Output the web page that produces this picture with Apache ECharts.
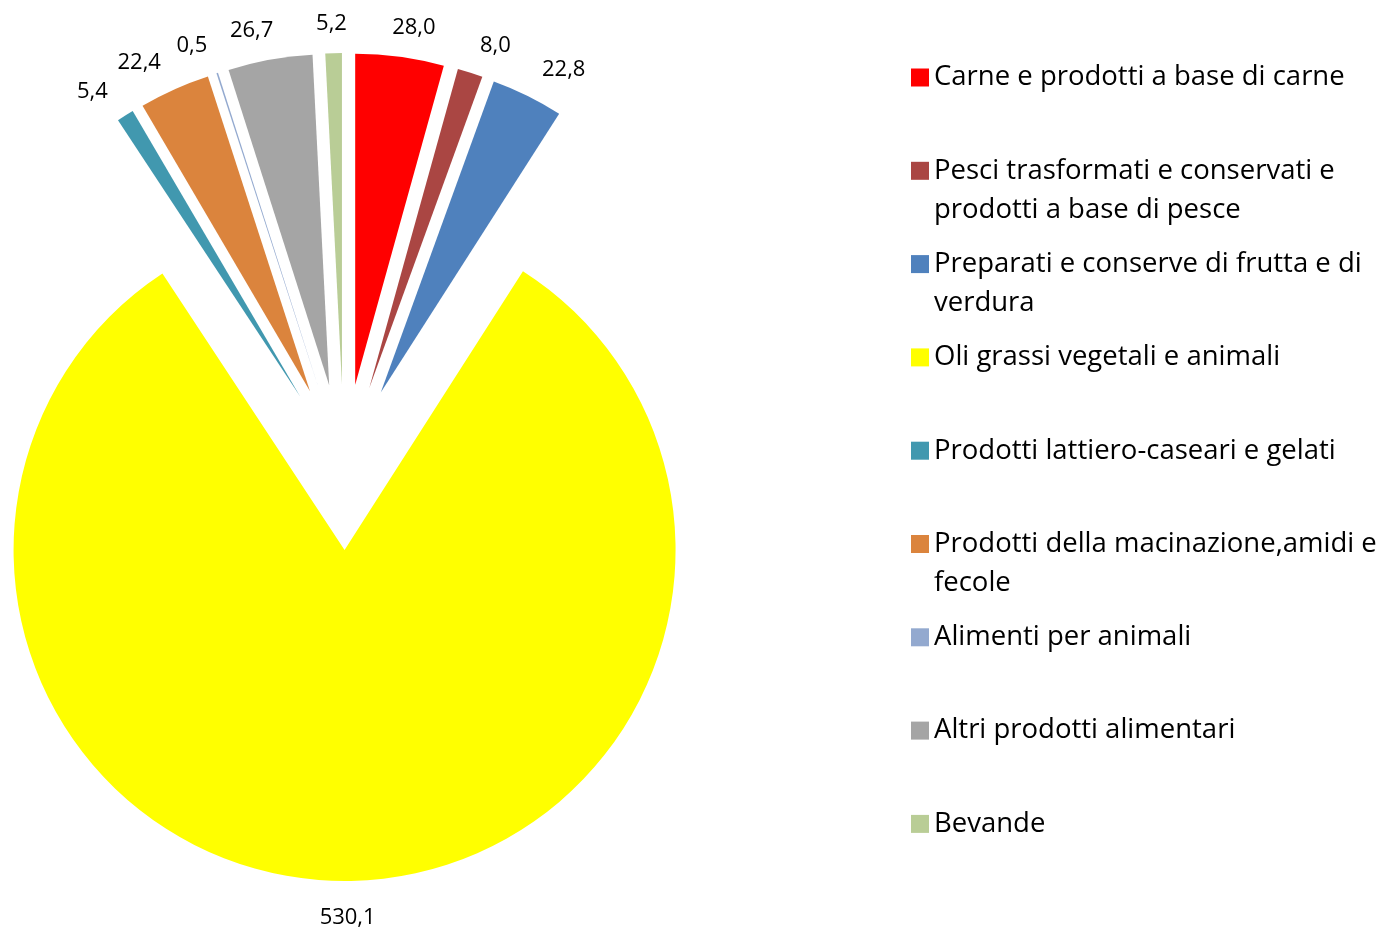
<!DOCTYPE html>
<html>
<head>
<meta charset="utf-8">
<script src="https://cdn.jsdelivr.net/npm/echarts@6/dist/echarts.min.js"></script>
<style>
  html, body { margin: 0; padding: 0; background: #fff; }
  #chart { width: 1389px; height: 930px; }
</style>
</head>
<body>
<div id="chart"></div>
<script>
// dati
const categories = [
  'Carne e prodotti a base di carne',
  'Pesci trasformati e conservati e prodotti a base di pesce',
  'Preparati e conserve di frutta e di verdura',
  'Oli grassi vegetali e animali',
  'Prodotti lattiero-caseari e gelati',
  'Prodotti della macinazione,amidi e fecole',
  'Alimenti per animali',
  'Altri prodotti alimentari',
  'Bevande'
]
const values = [28.0, 8.0, 22.8, 530.1, 5.4, 22.4, 0.5, 26.7, 5.2]
const colors = ['#FF0000', '#AA4643', '#4F81BD', '#FFFF00', '#4198AF', '#DB843D', '#93A9CF', '#A5A5A5', '#B9CD96']

// a capo nella legenda
const legendLines = {
  'Pesci trasformati e conservati e prodotti a base di pesce': ['Pesci trasformati e conservati e', 'prodotti a base di pesce'],
  'Preparati e conserve di frutta e di verdura': ['Preparati e conserve di frutta e di', 'verdura'],
  'Prodotti della macinazione,amidi e fecole': ['Prodotti della macinazione,amidi e', 'fecole']
}

const chart = echarts.init(document.getElementById('chart'))

const font = '"Open Sans", sans-serif'
const center = [344, 467]
const R = 331
const explode = 83
const labelR = R + explode + 30

const option = {
  animation: false,
  backgroundColor: '#fff',
  // una legenda per voce, passo fisso come in Excel
  legend: categories.map((name, i) => ({
    data: [name],
    orient: 'vertical',
    left: 911,
    top: 19 + i * 93.3,
    padding: 0,
    itemWidth: 18,
    itemHeight: 18,
    icon: 'rect',
    selectedMode: false,
    textStyle: { fontFamily: font, fontSize: 27.5, lineHeight: 39, color: '#000' },
    formatter: n => {
      const l = legendLines[n] || [n]
      return '\n' + l[0] + '\n' + (l[1] || '')
    }
  })),
  series: [{
    // torta esplosa
    type: 'pie',
    center: center,
    radius: R,
    startAngle: 90,
    clockwise: true,
    selectedMode: 'multiple',
    selectedOffset: explode,
    emphasis: { disabled: true },
    label: { show: false },
    labelLine: { show: false },
    data: values.map((v, i) => ({
      name: categories[i],
      value: v,
      selected: true,
      itemStyle: { color: colors[i] }
    }))
  }, {
    // anello invisibile che porta le etichette dei valori
    type: 'pie',
    center: center,
    radius: [labelR - 2, labelR + 2],
    startAngle: 90,
    clockwise: true,
    silent: true,
    emphasis: { disabled: true },
    itemStyle: { color: 'rgba(0,0,0,0)' },
    label: {
      show: true,
      position: 'inside',
      fontFamily: font,
      fontSize: 22,
      color: '#000',
      formatter: p => p.value.toFixed(1).replace('.', ',')
    },
    labelLine: { show: false },
    // allineamento graduale come in Excel
    labelLayout: p => {
      const r = p.labelRect
      const cx = r.x + r.width / 2
      const cy = r.y + r.height / 2
      const c = (cx - center[0]) / labelR
      const k = Math.max(-1, Math.min(1, c * 3.2))
      return { x: cx + k * r.width / 2, y: cy + 4, align: 'center', verticalAlign: 'middle' }
    },
    data: values.map((v, i) => ({ name: categories[i], value: v }))
  }]
}

chart.setOption(option)
window.addEventListener('resize', chart.resize)
</script>
</body>
</html>
